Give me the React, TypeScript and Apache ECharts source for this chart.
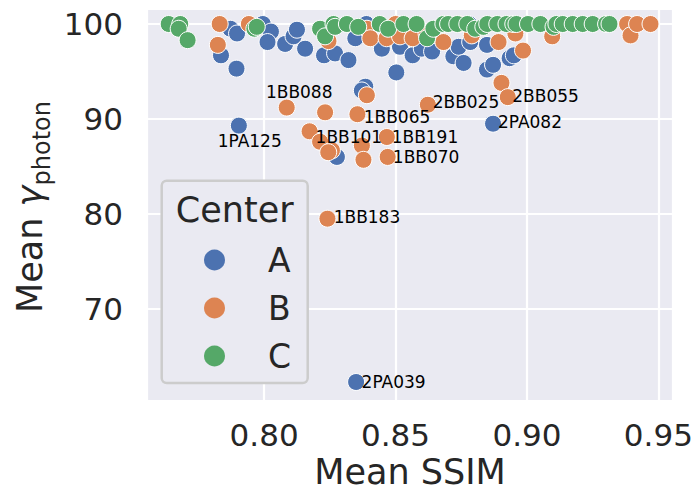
import React, { useEffect, useRef } from "react";
import * as echarts from "echarts";

// Treatment centers and their seaborn "deep" colours
const centers = ["A", "B", "C"];
const centerColors = ["#4C72B0", "#DD8452", "#55A868"];

// Per-case results: [mean SSIM, mean gamma pass rate (%), case id for outliers]
const centerA: [number, number, string?][] = [
  [0.7872, 99.5], [0.7897, 99.0], [0.7836, 96.7], [0.7895, 95.3],
  [0.7904, 89.3, "1PA125"], [0.7995, 100.0], [0.8026, 99.2], [0.8013, 98.1],
  [0.808, 97.9], [0.8112, 98.7], [0.8125, 99.4], [0.8156, 97.4], [0.8228, 96.7],
  [0.827, 96.9], [0.8321, 96.2], [0.8347, 98.5], [0.8277, 86.0], [0.8385, 93.4],
  [0.8372, 93.0], [0.835, 62.3, "2PA039"], [0.8389, 100.0], [0.8448, 97.4],
  [0.8503, 94.9], [0.851, 100.0], [0.8517, 97.6], [0.8565, 96.7], [0.86, 97.4],
  [0.8639, 97.1], [0.872, 96.6], [0.874, 97.6], [0.8759, 95.9], [0.878, 100.0],
  [0.8784, 98.1], [0.8848, 97.8], [0.8848, 95.2], [0.8871, 95.7], [0.8934, 96.4],
  [0.895, 96.7], [0.8871, 89.5, "2PA082"],
];

const centerB: [number, number, string?][] = [
  [0.7831, 100.0], [0.7824, 97.8], [0.7942, 100.0], [0.8086, 91.2, "1BB088"],
  [0.8232, 90.7], [0.8355, 90.5, "1BB065"], [0.8173, 88.7, "1BB101"], [0.8213, 87.6],
  [0.8258, 86.7], [0.8244, 86.5], [0.8372, 87.2], [0.8378, 85.7],
  [0.8467, 88.1, "1BB191"], [0.847, 86.0, "1BB070"], [0.8241, 79.5, "1BB183"],
  [0.8391, 92.5], [0.8245, 98.2], [0.8391, 99.5], [0.8404, 98.5], [0.8466, 98.5],
  [0.85, 100.0], [0.8517, 98.7], [0.8565, 98.5], [0.8618, 99.0], [0.8682, 98.1],
  [0.8623, 91.5, "2BB025"], [0.874, 100.0], [0.879, 98.8], [0.8892, 98.1],
  [0.8956, 99.0], [0.8985, 97.2], [0.8903, 93.8], [0.8927, 92.3, "2BB055"],
  [0.9096, 98.7], [0.9381, 100.0], [0.9394, 98.8], [0.9419, 100.0], [0.947, 100.0],
];

const centerC: [number, number, string?][] = [
  [0.7637, 100.0], [0.7681, 100.0], [0.7675, 99.5], [0.7709, 98.3], [0.7963, 99.5],
  [0.7972, 99.7], [0.8213, 99.5], [0.8232, 98.7], [0.8264, 100.0], [0.827, 99.7],
  [0.8315, 100.0], [0.8358, 99.7], [0.844, 100.0], [0.8472, 99.5], [0.853, 100.0],
  [0.858, 100.0], [0.862, 98.5], [0.8644, 99.5], [0.8682, 100.0], [0.87, 100.0],
  [0.8735, 100.0], [0.8773, 100.0], [0.8803, 99.5], [0.8834, 99.7], [0.8849, 100.0],
  [0.8887, 100.0], [0.8922, 100.0], [0.8948, 100.0], [0.896, 100.0], [0.9004, 100.0],
  [0.9051, 100.0], [0.9101, 99.7], [0.9112, 100.0], [0.9136, 100.0], [0.9174, 100.0],
  [0.9212, 100.0], [0.925, 100.0], [0.9301, 100.0], [0.9314, 100.0],
];

const seriesData = [centerA, centerB, centerC];

// Axis extents
const ssimRange = [0.75545, 0.95556];
const gammaRange = [60.3, 101.58];

// Placement of annotation text relative to the marker centre (px): [dx to text box left, dy of text middle]
const labelOffsets: Record<string, [number, number]> = {
  "1PA125": [-20.7, 15.7],
  "1BB088": [-20.3, -15.5],
  "1BB065": [6.8, 3.5],
  "1BB101": [6.5, 5.8],
  "1BB191": [5.3, 0.8],
  "1BB070": [5.7, 1],
  "1BB183": [6.7, -0.8],
  "2PA039": [6, 0],
  "2BB025": [5.3, -2],
  "2BB055": [5, -0.6],
  "2PA082": [5.4, -0.8],
};

const FONT = "DejaVu Sans";
const INK = "#262626";
const MARKER = 17;

function buildItems(rows: [number, number, string?][]) {
  return rows.map(([x, y, id]) => {
    if (!id) return { value: [x, y] };
    const [dx, dy] = labelOffsets[id] || [6, 0];
    return {
      value: [x, y],
      name: id,
      label: {
        show: true,
        formatter: "{b}",
        position: [MARKER / 2 + dx, MARKER / 2 + dy],
        align: "left",
        verticalAlign: "middle",
        fontSize: 17,
        lineHeight: 15,
        fontFamily: FONT,
        color: "#000",
      },
    };
  });
}

export default function App() {
  const ref = useRef<HTMLDivElement>(null);

  useEffect(() => {
    const chart = echarts.init(ref.current!, null, { renderer: "svg" });
    const option: any = {
      animation: false,
      backgroundColor: "#ffffff",
      grid: {
        left: 147,
        right: 25,
        top: 9,
        bottom: 96,
        show: true,
        backgroundColor: "#EAEAF2",
        borderWidth: 0,
      },
      xAxis: {
        type: "value",
        min: ssimRange[0],
        max: ssimRange[1],
        splitNumber: 5,
        name: "Mean SSIM",
        nameLocation: "middle",
        nameGap: 53,
        nameTextStyle: { fontSize: 35, fontFamily: FONT, color: INK },
        axisLine: { show: false },
        axisTick: { show: false },
        axisLabel: {
          fontSize: 31,
          fontFamily: FONT,
          color: INK,
          margin: 18,
          showMinLabel: false,
          showMaxLabel: false,
          formatter: (v: number) => v.toFixed(2),
        },
        splitLine: { show: true, lineStyle: { color: "#ffffff", width: 2.2 } },
      },
      yAxis: {
        type: "value",
        min: gammaRange[0],
        max: gammaRange[1],
        splitNumber: 5,
        axisLine: { show: false },
        axisTick: { show: false },
        axisLabel: {
          fontSize: 31,
          fontFamily: FONT,
          color: INK,
          margin: 24,
          showMinLabel: false,
          showMaxLabel: false,
          formatter: (v: number) => String(Math.round(v)),
        },
        splitLine: { show: true, lineStyle: { color: "#ffffff", width: 2.2 } },
      },
      legend: {
        orient: "vertical",
        left: 199,
        top: 235,
        z: 6,
        itemWidth: 21,
        itemHeight: 21,
        itemGap: 8,
        icon: "circle",
        itemStyle: { borderWidth: 0 },
        textStyle: {
          fontSize: 33,
          fontFamily: FONT,
          color: INK,
          lineHeight: 40,
          padding: [0, 0, 0, 38],
        },
        data: centers,
      },
      graphic: [
        {
          type: "rect",
          z: 5,
          shape: { x: 161.7, y: 180.7, width: 146, height: 202.3, r: 5 },
          style: { fill: "#EAEAF2", stroke: "#CCCCCC", lineWidth: 2.5 },
        },
        {
          type: "text",
          z: 6,
          x: 234.7,
          y: 210,
          style: {
            text: "Center",
            fontSize: 35,
            fontFamily: FONT,
            fill: INK,
            align: "center",
            verticalAlign: "middle",
          },
        },
        {
          type: "text",
          x: 29.6,
          y: 313,
          rotation: Math.PI / 2,
          style: {
            text: "{a|Mean }{g|γ}",
            align: "left",
            verticalAlign: "middle",
            fill: INK,
            rich: {
              a: { fontSize: 35, fontFamily: FONT, fill: INK },
              g: { fontSize: 35, fontFamily: FONT, fontStyle: "italic", fill: INK },
            },
          },
        },
        {
          type: "text",
          x: 41.7,
          y: 185.5,
          rotation: Math.PI / 2,
          style: {
            text: "photon",
            fontSize: 24,
            fontFamily: FONT,
            fill: INK,
            align: "left",
            verticalAlign: "middle",
          },
        },
      ],
      series: seriesData.map((rows, i) => ({
        type: "scatter",
        name: centers[i],
        symbol: "circle",
        symbolSize: MARKER,
        itemStyle: {
          color: centerColors[i],
          borderColor: "#ffffff",
          borderWidth: 1,
          opacity: 1,
        },
        emphasis: { disabled: true },
        data: buildItems(rows),
      })),
    };
    chart.setOption(option);
    return () => chart.dispose();
  }, []);

  return (
    <div
      ref={ref}
      style={{ position: "fixed", left: 0, top: 0, width: 698, height: 497 }}
    />
  );
}
